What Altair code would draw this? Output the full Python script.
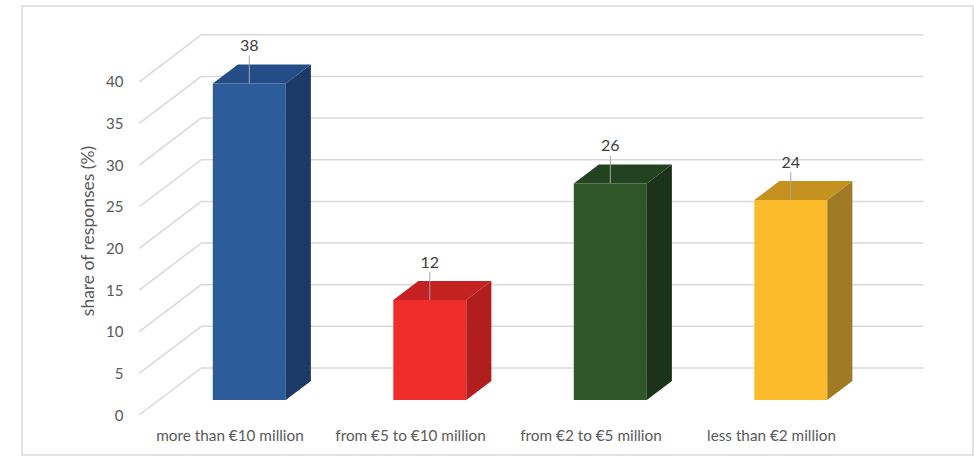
import altair as alt
import pandas as pd

# ---- data ----
categories = ["more than €10 million", "from €5 to €10 million", "from €2 to €5 million", "less than €2 million"]
values = [38, 12, 26, 24]
y_ticks = [0, 5, 10, 15, 20, 25, 30, 35, 40]

front_colors = ["#2D5C9A", "#EE2D2A", "#2F5627", "#FCBB2B"]
side_colors = ["#1B3A66", "#B01E1E", "#1B3318", "#A17A26"]
top_colors = ["#244D88", "#C42222", "#234220", "#C5921F"]

# ---- geometry (pixel styling of the 3D projection) ----
W, H = 951, 449
PX_PER_Y = 8.33          # pixels per percentage point
PX_PER_X = 180.5         # pixels per category step
Y0_REL = 409.0           # front plane 0 (relative to plot top)
X0_REL = 207.5           # front plane first category centre
SLOPE = 1.32             # horizontal shift per vertical depth pixel
D_FRONT, D_BACK, D_WALL = 15, 34, 47
HALF_W = 36.5 / PX_PER_X

def dx(d):
    return SLOPE * d / PX_PER_X

def dy(d):
    return d / PX_PER_Y

y_dom = [(Y0_REL - H) / PX_PER_Y, Y0_REL / PX_PER_Y]
x_dom = [-X0_REL / PX_PER_X, (W - X0_REL) / PX_PER_X]
xs = alt.Scale(domain=x_dom, nice=False, zero=False)
ys = alt.Scale(domain=y_dom, nice=False, zero=False)

n = len(categories)
left_edge, right_edge = -0.5, n - 0.5

grid_diag = pd.DataFrame({
    "x": [left_edge] * len(y_ticks),
    "x2": [left_edge + dx(D_WALL)] * len(y_ticks),
    "y": y_ticks,
    "y2": [t + dy(D_WALL) for t in y_ticks],
})
grid_back = pd.DataFrame({
    "x": [left_edge + dx(D_WALL)] * len(y_ticks),
    "x2": [right_edge + dx(D_WALL)] * len(y_ticks),
    "y": [t + dy(D_WALL) for t in y_ticks],
})

front = pd.DataFrame({
    "cat": categories,
    "x": [i - HALF_W + dx(D_FRONT) for i in range(n)],
    "x2": [i + HALF_W + dx(D_FRONT) for i in range(n)],
    "y": [dy(D_FRONT)] * n,
    "y2": [v + dy(D_FRONT) for v in values],
})

side_rows, top_rows = [], []
for i, (c, v) in enumerate(zip(categories, values)):
    for d in (D_FRONT, D_BACK):
        side_rows.append({"cat": c, "x": i + HALF_W + dx(d), "y": dy(d), "y2": v + dy(d)})
        top_rows.append({"cat": c, "y": v + dy(d), "x": i - HALF_W + dx(d), "x2": i + HALF_W + dx(d)})
side = pd.DataFrame(side_rows)
top = pd.DataFrame(top_rows)

labels = pd.DataFrame({
    "cat": categories,
    "val": values,
    "x": [i + dx(D_FRONT) for i in range(n)],
    "y": [v + dy(D_FRONT) for v in values],
    "y2": [v + dy(D_FRONT) + 28 / PX_PER_Y for v in values],
})

label_expr = "[" + ",".join("'" + c + "'" for c in categories) + "][datum.value]"

axis_y = alt.Axis(values=y_ticks, offset=-106, ticks=False, domain=False, grid=False,
                  labelPadding=5, labelFontSize=15, labelColor="#595959",
                  title="share of responses (%)", titleFontSize=17.5, titleFontWeight="normal",
                  titleColor="#595959", titlePadding=8)
axis_x = alt.Axis(values=list(range(n)), offset=-31, ticks=False, domain=False, grid=False,
                  labelExpr=label_expr, labelPadding=4, labelFontSize=15.3, labelColor="#595959",
                  labelOverlap=False, labelFlush=False, title=None)

def X(f="x:Q"):
    return alt.X(f, scale=xs, axis=axis_x)

def Y(f="y:Q"):
    return alt.Y(f, scale=ys, axis=axis_y)

diag = alt.Chart(grid_diag).mark_rule(color="#D9D9D9", strokeWidth=1.5).encode(
    x=X(), x2="x2:Q", y=Y(), y2="y2:Q",
)
back = alt.Chart(grid_back).mark_rule(color="#D9D9D9", strokeWidth=1.5).encode(
    x=X(), x2="x2:Q", y=Y(),
)
front_l = alt.Chart(front).mark_rect().encode(
    x=X(), x2="x2:Q", y=Y(), y2="y2:Q",
    color=alt.Color("cat:N", scale=alt.Scale(domain=categories, range=front_colors), legend=None),
)
side_l = alt.Chart(side).mark_area(orient="vertical").encode(
    x=X(), y=Y(), y2="y2:Q", detail="cat:N",
    color=alt.Color("cat:N", scale=alt.Scale(domain=categories, range=side_colors), legend=None),
)
top_l = alt.Chart(top).mark_area(orient="horizontal").encode(
    y=Y(), x=X(), x2="x2:Q", detail="cat:N",
    color=alt.Color("cat:N", scale=alt.Scale(domain=categories, range=top_colors), legend=None),
)
leader = alt.Chart(labels).mark_rule(color="#A6A6A6", strokeWidth=1).encode(
    x=X(), y=Y(), y2="y2:Q",
)
text = alt.Chart(labels).mark_text(font="Lato", fontSize=16, color="#404040", dy=-37,
                                   baseline="middle", align="center").encode(
    x=X(), y=Y(), text="val:Q",
)

chart = alt.layer(diag, back, front_l, side_l, top_l, leader, text).resolve_scale(
    color="independent"
).properties(
    width=W, height=H,
    autosize=alt.AutoSizeParams(type="none"),
    padding={"left": 22, "top": 6, "right": 1, "bottom": 3},
    background="white",
).configure_view(stroke="#D9D9D9", strokeWidth=1.5).configure_axis(
    labelFont="Lato", titleFont="Lato"
)

chart.save("out.html", embed_options={"renderer": "svg", "actions": False})
